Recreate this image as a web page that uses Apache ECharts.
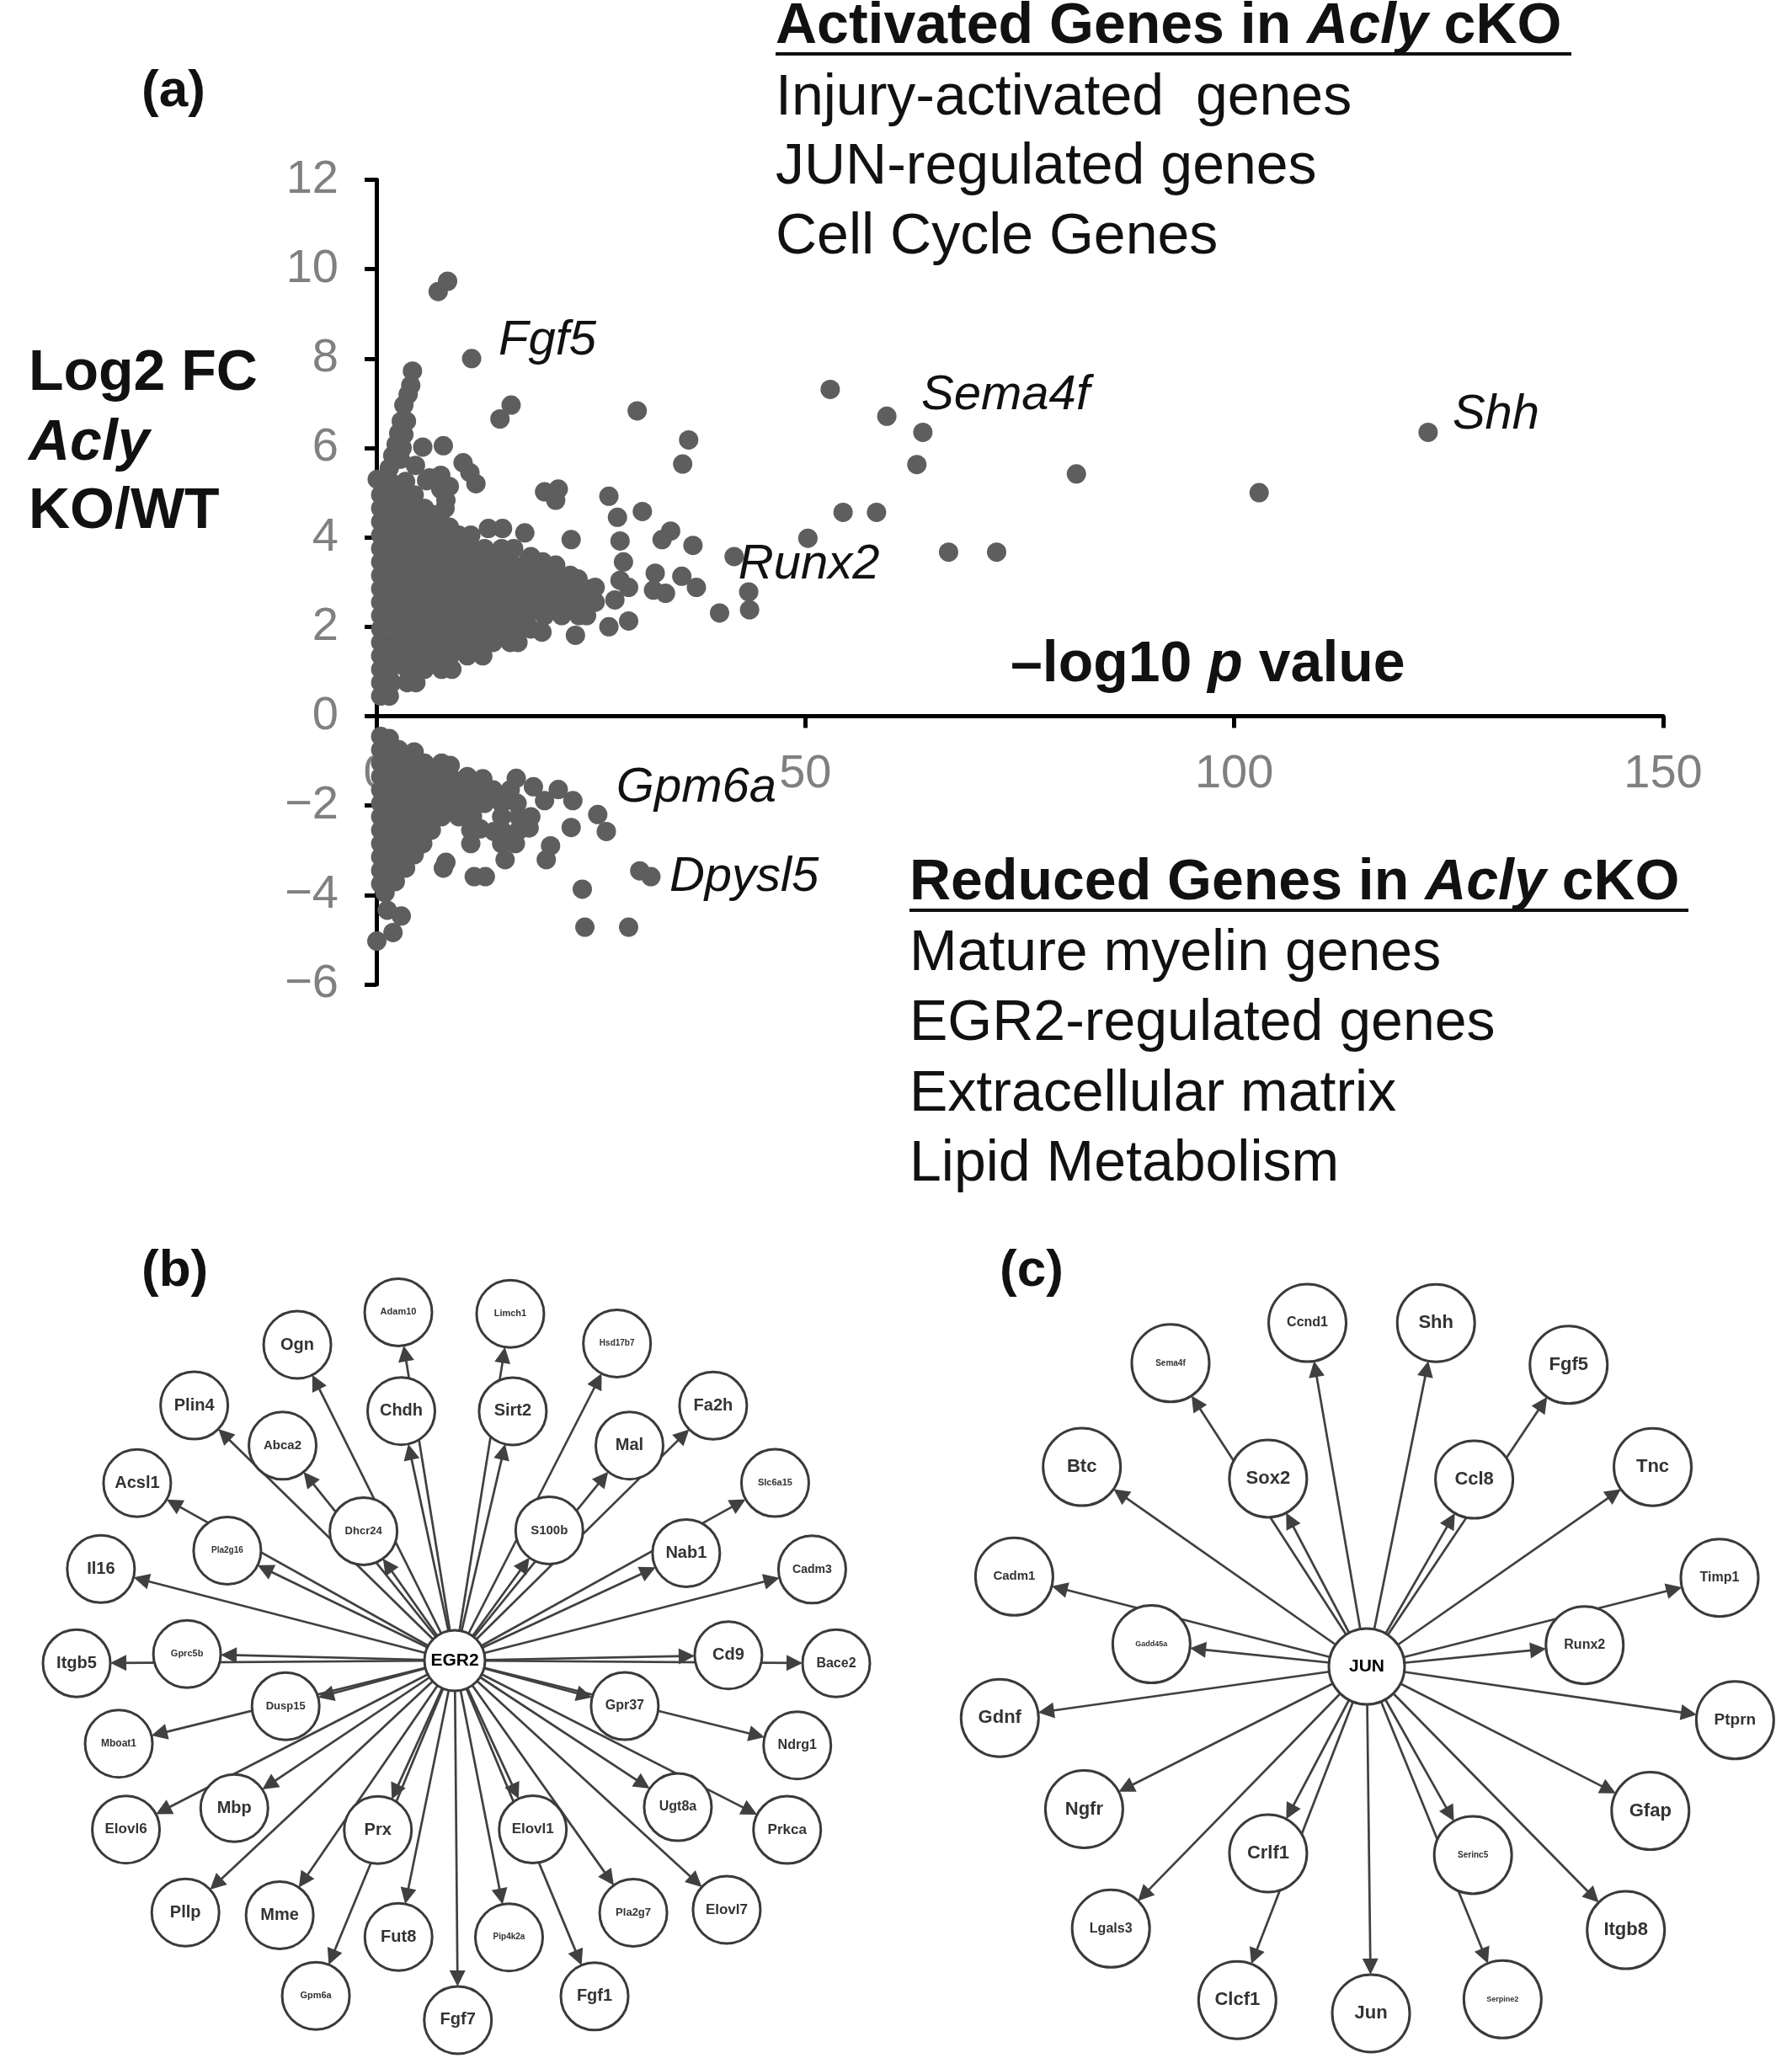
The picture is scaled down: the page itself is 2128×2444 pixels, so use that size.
<!DOCTYPE html>
<html>
<head>
<meta charset="utf-8">
<script src="https://cdn.jsdelivr.net/npm/echarts@6/dist/echarts.min.js"></script>
<style>html,body{margin:0;padding:0;background:#fff}#chart{width:2128px;height:2444px}</style>
</head>
<body>
<div id="chart"></div>
<script>
// ---------------- Panel (a) data: [-log10 p, log2 FC] ----------------
const xTicks = [0, 50, 100, 150];
const yTicks = [-6, -4, -2, 0, 2, 4, 6, 8, 10, 12];

const upDense = [
[0.5,0.45],[1.5,0.45],
[0.5,0.75],[1.8,0.75],[3.6,0.75],[4.6,0.75],
[0.5,1.05],[1.6,1.05],[3.6,1.05],[5.6,1.05],[7.6,1.05],[8.8,1.05],
[0.5,1.35],[2.6,1.35],[4.6,1.35],[6.6,1.35],[8.6,1.35],[10.6,1.35],[12.4,1.35],
[0.5,1.65],[1.6,1.65],[3.6,1.65],[5.6,1.65],[7.6,1.65],[9.6,1.65],[11.6,1.65],[13.6,1.65],[15.6,1.65],[16.5,1.65],
[0.5,1.95],[2.6,1.95],[4.6,1.95],[6.6,1.95],[8.6,1.95],[10.6,1.95],[12.6,1.95],[14.6,1.95],[16.6,1.95],[18.0,1.95],
[0.5,2.25],[1.6,2.25],[3.6,2.25],[5.6,2.25],[7.6,2.25],[9.6,2.25],[11.6,2.25],[13.6,2.25],[15.6,2.25],[17.6,2.25],[19.6,2.25],[21.6,2.25],[23.6,2.25],[24.5,2.25],
[0.5,2.55],[2.6,2.55],[4.6,2.55],[6.6,2.55],[8.6,2.55],[10.6,2.55],[12.6,2.55],[14.6,2.55],[16.6,2.55],[18.6,2.55],[20.6,2.55],[22.6,2.55],[24.6,2.55],[25.5,2.55],
[0.5,2.85],[1.6,2.85],[3.6,2.85],[5.6,2.85],[7.6,2.85],[9.6,2.85],[11.6,2.85],[13.6,2.85],[15.6,2.85],[17.6,2.85],[19.6,2.85],[21.6,2.85],[23.6,2.85],[25.0,2.85],
[0.5,3.15],[2.6,3.15],[4.6,3.15],[6.6,3.15],[8.6,3.15],[10.6,3.15],[12.6,3.15],[14.6,3.15],[16.6,3.15],[18.6,3.15],[20.6,3.15],[22.6,3.15],
[0.5,3.45],[1.6,3.45],[3.6,3.45],[5.6,3.45],[7.6,3.45],[9.6,3.45],[11.6,3.45],[13.6,3.45],[15.6,3.45],[17.6,3.45],[19.4,3.45],
[0.5,3.75],[2.6,3.75],[4.6,3.75],[6.6,3.75],[8.6,3.75],[10.6,3.75],[12.6,3.75],[14.6,3.75],[16.0,3.75],
[0.5,4.05],[1.6,4.05],[3.6,4.05],[5.6,4.05],[7.6,4.05],[9.6,4.05],[11.0,4.05],
[0.5,4.35],[2.6,4.35],[4.6,4.35],[6.6,4.35],[7.5,4.35],
[0.5,4.65],[1.6,4.65],[3.6,4.65],[5.6,4.65],[8.0,4.65],
[0.5,4.95],[2.6,4.95],[4.4,4.95],
[1.6,5.25],[3.4,5.25]
];
const upOutliers = [
[7.2,9.5],[8.3,9.73],[4.2,7.72],[4.0,7.4],[3.7,7.2],[3.2,6.96],[2.9,6.6],[3.5,6.6],[2.6,6.33],[3.2,6.3],
[2.3,6.08],[3.0,6.0],[1.9,5.83],[2.8,5.75],[1.5,5.55],[5.4,6.02],[7.8,6.05],[4.55,5.61],[10.1,5.67],[10.9,5.45],
[11.6,5.2],[0.1,5.3],[6.2,5.33],[7.5,5.39],[8.5,5.14],[5.85,5.27],[3.2,5.08],[7.5,5.08],[8.1,4.83],[6.5,4.51],
[14.4,6.65],[15.7,6.96],[19.6,5.02],[21.2,5.08],[20.9,4.83],[27.1,4.92],[28.1,4.45],[31.0,4.58],[34.3,4.14],[33.3,3.95],
[36.9,3.82],[17.3,4.1],[22.7,3.95],[28.4,3.92],[28.8,3.45],[28.4,3.04],[27.8,2.6],[29.4,2.88],[32.5,3.2],[32.3,2.82],
[33.7,2.75],[35.6,3.13],[37.3,2.88],[27.1,2.0],[29.4,2.13],[23.2,1.81],[19.3,1.88],[13.05,4.2],[14.7,4.2],[8.5,4.23],
[10.8,3.95],[18.0,3.57],[20.9,3.38],[23.5,3.07],[25.5,2.88],
[30.4,6.83],[36.4,6.18],[35.7,5.64],[52.9,7.31],[63.7,6.35],[63.0,5.63],[81.6,5.42],[102.9,5.0],[54.4,4.56],[58.3,4.56],
[50.3,3.98],[66.7,3.67],[72.3,3.67],[43.4,2.78],[43.5,2.38],[40.0,2.31]
];
const downDense = [
[0.5,-0.45],[1.5,-0.5],
[0.5,-0.75],[2.6,-0.75],[4.4,-0.8],
[0.5,-1.05],[1.6,-1.05],[3.6,-1.05],[5.6,-1.05],[7.6,-1.05],[8.6,-1.1],
[0.5,-1.35],[2.6,-1.35],[4.6,-1.35],[6.6,-1.35],[8.6,-1.35],[10.6,-1.35],[12.4,-1.4],
[0.5,-1.65],[1.6,-1.65],[3.6,-1.65],[5.6,-1.65],[7.6,-1.65],[9.6,-1.65],[11.6,-1.65],[13.6,-1.65],[15.6,-1.65],
[0.5,-1.95],[2.6,-1.95],[4.6,-1.95],[6.6,-1.95],[8.6,-1.95],[10.6,-1.95],[12.6,-1.95],[14.6,-1.95],[16.4,-1.95],
[0.5,-2.25],[1.6,-2.25],[3.6,-2.25],[5.6,-2.25],[7.6,-2.25],[9.6,-2.25],[11.2,-2.25],[14.6,-2.25],[16.6,-2.25],[18.0,-2.25],
[0.5,-2.55],[2.6,-2.55],[4.6,-2.55],[6.4,-2.55],[11.0,-2.55],[14.6,-2.55],[16.6,-2.55],[17.8,-2.5],
[0.5,-2.85],[1.6,-2.85],[3.6,-2.85],[5.4,-2.85],[11.0,-2.85],[14.6,-2.85],[16.2,-2.85],
[0.5,-3.15],[2.6,-3.15],[4.4,-3.1],
[0.5,-3.45],[1.6,-3.45],[3.4,-3.4],
[0.5,-3.75],[2.2,-3.7],
[1.0,-3.95]
];
const downOutliers = [
[16.3,-1.39],[18.3,-1.58],[19.6,-1.89],[21.2,-1.64],[22.9,-1.89],[26.8,-2.58],[22.7,-2.49],[20.3,-2.9],[19.8,-3.21],[15.0,-3.21],
[8.1,-3.27],[7.8,-3.4],[11.4,-3.59],[12.7,-3.59],[30.7,-3.46],[24.0,-3.87],[24.3,-4.72],[29.4,-4.72],[1.27,-4.34],[2.9,-4.47],
[1.93,-4.84],[0.05,-5.03],[17.3,-2.46],[16.0,-2.7],[12.1,-2.52],[13.7,-2.58]
];
// labelled genes: [name, -log10 p, log2 FC]
const labeledGenes = [
['Fgf5',11.1,8.0],['Sema4f',59.5,6.71],['Shh',122.6,6.35],['Runx2',41.7,3.57],['Gpm6a',25.8,-2.2],['Dpysl5',32.0,-3.59]
];

// ---------------- Panels (b)/(c) networks: [gene, radius, angle(deg)] ----------------
const egr2Hub = 'EGR2';
const egr2Targets = [
['Ogn',419,116.5],['Adam10',419,99.2],['Limch1',417,80.9],['Hsd17b7',423,62.9],['Fa2h',431,44.6],
['Slc6a15',435,29.0],['Cadm3',438,14.3],['Bace2',453,359.6],['Ndrg1',419,346.1],['Prkca',443,333.0],
['Elovl7',438,317.5],['Pla2g7',367,305.3],['Fgf1',432,292.6],['Pip4k2a',335,281.1],['Fgf7',427,270.5],
['Fut8',335,258.5],['Gpm6a',431,247.5],['Mme',367,235.5],['Pllp',438,223.1],['Elovl6',439,207.2],
['Mboat1',411,193.9],['Itgb5',449,180.4],['Il16',434,165.5],['Acsl1',432,150.8],['Plin4',433,135.6],
['Chdh',303,102.1],['Sirt2',304,76.9],['Abca2',327,128.7],['Mal',329,50.9],['Dhcr24',188,125.2],
['S100b',191,54.0],['Pla2g16',300,154.2],['Nab1',303,24.9],['Gprc5b',318,178.6],['Cd9',325,1.1],
['Dusp15',208,195.1],['Gpr37',209,345.0],['Mbp',315,213.8],['Ugt8a',317,326.7],['Prx',221,245.6],
['Elovl1',221,294.8]
];
const junHub = 'JUN';
const junTargets = [
['Ccnd1',414,99.8],['Shh',416,78.6],['Sema4f',429,122.9],['Fgf5',431,56.2],['Sox2',252,117.7],
['Ccl8',256,60.1],['Btc',413,145.0],['Tnc',414,34.9],['Cadm1',432,165.7],['Timp1',432,14.1],
['Gadd45a',257,174.1],['Runx2',260,5.6],['Gdnf',440,188.0],['Ptprn',442,351.7],['Ngfr',376,206.8],
['Gfap',378,333.0],['Crlf1',251,242.2],['Serinc5',257,299.4],['Lgals3',435,225.7],['Itgb8',439,314.5],
['Clcf1',425,248.8],['Serpine2',427,292.2],['Jun',412,270.7]
];

// ---------------- styles ----------------
const FONT = '"Liberation Sans", Arial, Helvetica, sans-serif';
const DOT = '#5e5e5e';
const fontB = {Adam10:11,Limch1:11,Hsd17b7:10,Slc6a15:11,Pla2g16:10,Gprc5b:11,Pip4k2a:10,Gpm6a:11,Dhcr24:13,Dusp15:13,
  Mboat1:12,Pla2g7:13,Cadm3:14,S100b:15,Bace2:16,Ndrg1:16,Gpr37:16,Ugt8a:16,Prkca:17,Elovl1:17,Elovl7:17,Elovl6:17,Abca2:15};
const fontC = {Sema4f:10,Gadd45a:9,Serinc5:10,Serpine2:9,Ccnd1:16,Cadm1:15,Timp1:16,Runx2:16,Lgals3:16,Ptprn:19};
const labelOffset = {Fgf5:[32,-21],Sema4f:[41,-24],Shh:[29,-21],Runx2:[5,10],Gpm6a:[22,-31],Dpysl5:[22,1]};
const ARROW = 19;

function networkSeries(polarIndex, hub, targets, hubSize, leafSize, fonts, defFont) {
  const gNodes = [{name: hub, value: [0, 0], symbolSize: hubSize + ARROW}]
    .concat(targets.map(t => ({name: t[0], value: [t[1], t[2]], symbolSize: leafSize + ARROW})));
  const links = targets.map(t => ({source: hub, target: t[0]}));
  const graph = {
    type: 'graph', coordinateSystem: 'polar', polarIndex: polarIndex, layout: 'none', silent: true, z: 2,
    symbol: 'circle', data: gNodes, links: links,
    itemStyle: {opacity: 0}, label: {show: false},
    edgeSymbol: ['none', 'triangle'], edgeSymbolSize: ARROW,
    lineStyle: {color: '#404040', width: 2.7, opacity: 1, curveness: 0}
  };
  const nodeData = [{name: hub, value: [0, 0], symbolSize: hubSize,
      label: {fontSize: 21, color: '#000'}}]
    .concat(targets.map(t => ({name: t[0], value: [t[1], t[2]], symbolSize: leafSize,
      label: {fontSize: fonts[t[0]] || defFont}})));
  const nodes = {
    type: 'scatter', coordinateSystem: 'polar', polarIndex: polarIndex, silent: true, z: 3,
    symbol: 'circle', data: nodeData,
    itemStyle: {color: '#fff', borderColor: '#3a3a3a', borderWidth: 3, opacity: 1},
    label: {show: true, position: 'inside', formatter: '{b}', fontFamily: FONT, fontWeight: 'bold', color: '#333'}
  };
  return [graph, nodes];
}

function txt(x, y, text, font, extra) {
  return Object.assign({type: 'text', x: x, y: y, z: 10,
    style: {text: text, font: font, fill: '#111', align: 'left', verticalAlign: 'middle',
            textAlign: 'left', textVerticalAlign: 'middle'}}, extra || {});
}
function richTxt(x, y, text, size) {
  return {type: 'text', x: x, y: y, z: 10,
    style: {text: text, fill: '#111', align: 'left', verticalAlign: 'middle', textAlign: 'left', textVerticalAlign: 'middle',
      rich: {
        b: {fontSize: size, fontFamily: FONT, fontWeight: 'bold', fill: '#111'},
        bi: {fontSize: size, fontFamily: FONT, fontWeight: 'bold', fontStyle: 'italic', fill: '#111'}
      }}};
}
function hline(x1, x2, y) {
  return {type: 'line', z: 10, shape: {x1: x1, y1: y, x2: x2, y2: y}, style: {stroke: '#111', lineWidth: 4}};
}

const axisText = {color: '#808080', fontSize: 56, fontFamily: FONT};
const GRID_TOP = 213.5, GRID_H = 955.5;
const Y_MIN = yTicks[0], Y_MAX = yTicks[yTicks.length - 1];
// shift the x axis (line, ticks, labels) up so it crosses y = 0
const xAxisOffset = -GRID_H * (0 - Y_MIN) / (Y_MAX - Y_MIN);

const chart = echarts.init(document.getElementById('chart'));
const option = {
  animation: false,
  backgroundColor: '#ffffff',
  textStyle: {fontFamily: FONT},
  grid: {left: 447, top: GRID_TOP, width: 1528, height: GRID_H, containLabel: false},
  xAxis: {
    type: 'value', min: xTicks[0], max: xTicks[xTicks.length - 1], interval: 50,
    position: 'bottom', offset: xAxisOffset,
    axisLine: {onZero: false, lineStyle: {color: '#000', width: 5}},
    axisTick: {show: true, inside: false, length: 14, lineStyle: {color: '#000', width: 5}},
    axisLabel: Object.assign({margin: 41}, axisText),
    splitLine: {show: false}
  },
  yAxis: {
    type: 'value', min: Y_MIN, max: Y_MAX, interval: 2,
    axisLine: {show: true, onZero: false, lineStyle: {color: '#000', width: 5}},
    axisTick: {show: true, inside: false, length: 14, lineStyle: {color: '#000', width: 5}},
    axisLabel: Object.assign({margin: 45, formatter: v => v < 0 ? '\u2212' + Math.abs(v) : String(v)}, axisText),
    splitLine: {show: false}
  },
  polar: [{center: [540, 1972], radius: 500}, {center: [1623, 1979], radius: 500}],
  angleAxis: [
    {polarIndex: 0, type: 'value', min: 0, max: 360, startAngle: 0, clockwise: false, show: false},
    {polarIndex: 1, type: 'value', min: 0, max: 360, startAngle: 0, clockwise: false, show: false}
  ],
  radiusAxis: [
    {polarIndex: 0, type: 'value', min: 0, max: 500, show: false},
    {polarIndex: 1, type: 'value', min: 0, max: 500, show: false}
  ],
  series: [
    {type: 'scatter', name: 'up', data: upDense.concat(upOutliers), symbolSize: 23, clip: false, z: 3,
     itemStyle: {color: DOT, opacity: 1}, silent: true},
    {type: 'scatter', name: 'down', data: downDense.concat(downOutliers), symbolSize: 23, clip: false, z: 3,
     itemStyle: {color: DOT, opacity: 1}, silent: true},
    {type: 'scatter', name: 'labeled', symbolSize: 23, clip: false, z: 4, silent: true,
     itemStyle: {color: DOT, opacity: 1},
     data: labeledGenes.map(g => ({name: g[0], value: [g[1], g[2]],
       label: {offset: [labelOffset[g[0]][0] - 11.5, labelOffset[g[0]][1]]}})),
     label: {show: true, position: 'right', distance: 0, formatter: '{b}', fontSize: 58, fontStyle: 'italic',
       fontFamily: FONT, color: '#111'}}
  ]
    .concat(networkSeries(0, egr2Hub, egr2Targets, 72, 80, fontB, 20))
    .concat(networkSeries(1, junHub, junTargets, 90, 92, fontC, 22)),
  graphic: [
    txt(168, 109, '(a)', 'bold 62px ' + FONT),
    txt(168, 1510, '(b)', 'bold 62px ' + FONT),
    txt(1187, 1510, '(c)', 'bold 62px ' + FONT),
    richTxt(921, 32, '{b|Activated Genes in }{bi|Acly}{b| cKO}', 68),
    hline(921, 1866, 64),
    txt(921, 117, 'Injury-activated  genes', '68px ' + FONT),
    txt(921, 199, 'JUN-regulated genes', '68px ' + FONT),
    txt(921, 282, 'Cell Cycle Genes', '68px ' + FONT),
    richTxt(1080, 1049, '{b|Reduced Genes in }{bi|Acly}{b| cKO}', 68),
    hline(1080, 2005, 1081),
    txt(1080, 1133, 'Mature myelin genes', '68px ' + FONT),
    txt(1080, 1216, 'EGR2-regulated genes', '68px ' + FONT),
    txt(1080, 1300, 'Extracellular matrix', '68px ' + FONT),
    txt(1080, 1383, 'Lipid Metabolism', '68px ' + FONT),
    txt(34, 444, 'Log2 FC', 'bold 68px ' + FONT),
    txt(34, 527, 'Acly', 'italic bold 68px ' + FONT),
    txt(34, 608, 'KO/WT', 'bold 68px ' + FONT),
    richTxt(1200, 790, '{b|\u2013log10 }{bi|p}{b| value}', 68)
  ]
};
chart.setOption(option);
</script>
</body>
</html>
